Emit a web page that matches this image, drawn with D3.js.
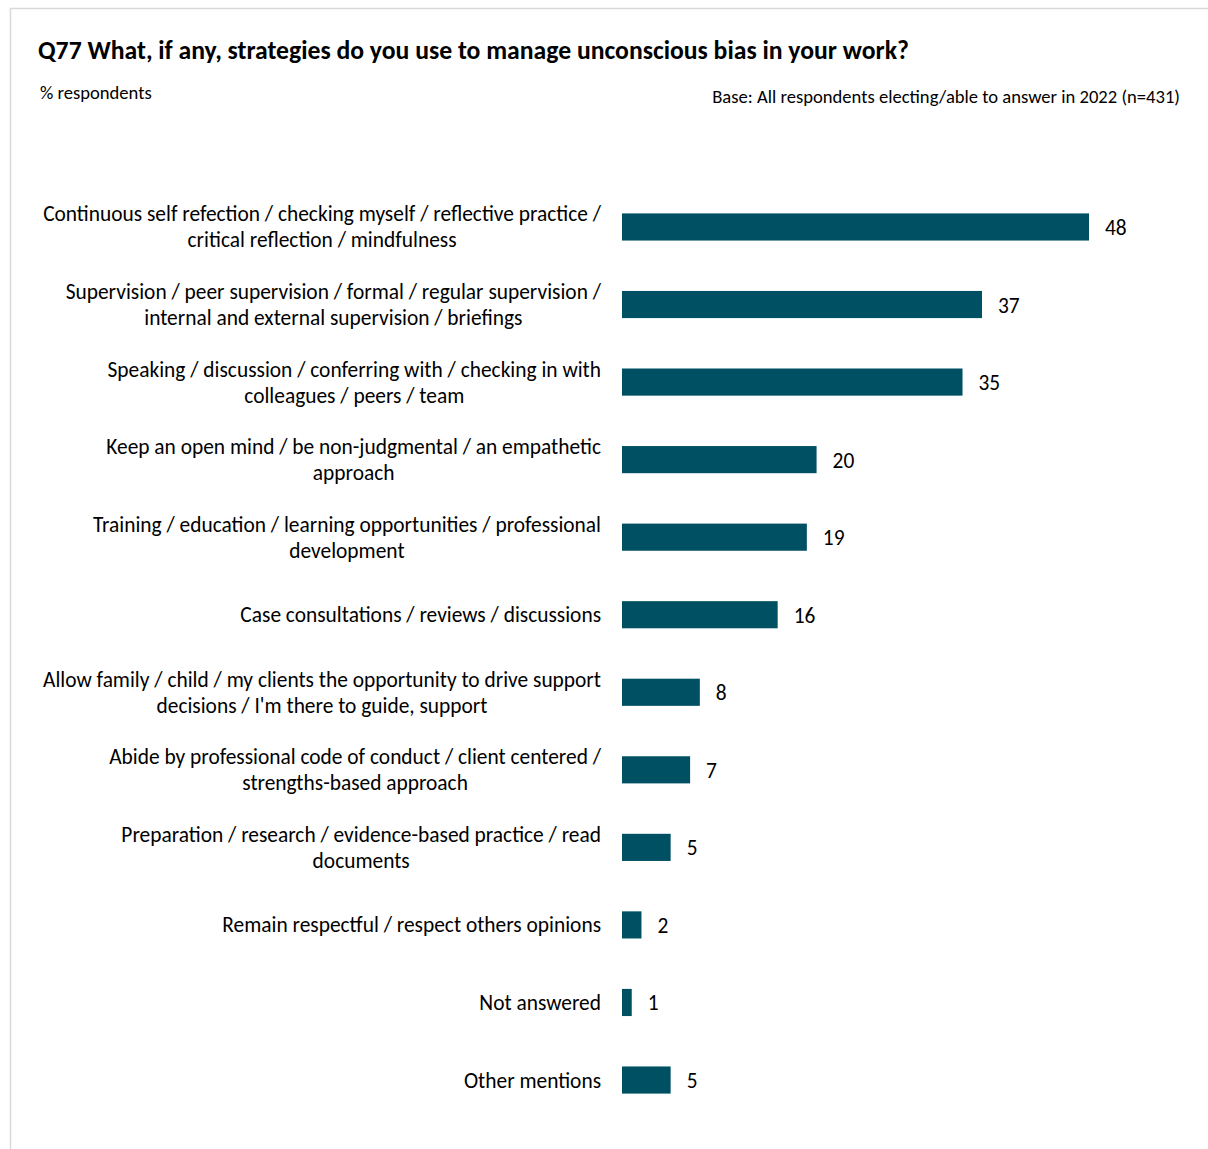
<!DOCTYPE html>
<html><head><meta charset="utf-8">
<script src="https://cdn.jsdelivr.net/npm/d3@7"></script>
<style>
html,body{margin:0;padding:0;background:#fff;}
svg{display:block;font-family:Carlito,Calibri,Lato,"Open Sans",sans-serif;}
</style></head>
<body>
<script>
const title = "Q77 What, if any, strategies do you use to manage unconscious bias in your work?";
const subtitle = "% respondents";
const baseNote = "Base: All respondents electing/able to answer in 2022 (n=431)";
const categories = [
  "Continuous self refection / checking myself / reflective practice /\ncritical reflection / mindfulness",
  "Supervision / peer supervision / formal / regular supervision /\ninternal and external supervision / briefings",
  "Speaking / discussion / conferring with / checking in with\ncolleagues / peers / team",
  "Keep an open mind / be non-judgmental / an empathetic\napproach",
  "Training / education / learning opportunities / professional\ndevelopment",
  "Case consultations / reviews / discussions",
  "Allow family / child / my clients the opportunity to drive support\ndecisions / I'm there to guide, support",
  "Abide by professional code of conduct / client centered /\nstrengths-based approach",
  "Preparation / research / evidence-based practice / read\ndocuments",
  "Remain respectful / respect others opinions",
  "Not answered",
  "Other mentions"
];
const values = [48, 37, 35, 20, 19, 16, 8, 7, 5, 2, 1, 5];

const W = 1208, H = 1149;
const svg = d3.select("body").append("svg").attr("width", W).attr("height", H);

svg.append("rect").attr("x", 10.5).attr("y", 8.5).attr("width", W + 20).attr("height", H + 20)
  .attr("fill", "#fff").attr("stroke", "#d9d9d9").attr("stroke-width", 1.5);

svg.append("text").attr("x", 38).attr("y", 59).attr("font-size", 25.7).attr("font-weight", "bold")
  .attr("fill", "#000").text(title);
svg.append("text").attr("x", 40).attr("y", 98.5).attr("font-size", 18.6).attr("fill", "#000").text(subtitle);
svg.append("text").attr("x", 1180).attr("y", 102.5).attr("font-size", 18.6).attr("text-anchor", "end")
  .attr("fill", "#000").text(baseNote);

const x = d3.scaleLinear().domain([0, 48]).range([622, 1089]);
const y = d3.scaleBand().domain(categories).range([188.2, 188.2 + 12 * 77.55])
  .paddingInner(0.65).paddingOuter(0.325);

const FS = 21.4;
const g = svg.append("g");
categories.forEach((c, i) => {
  const cy = y(c) + y.bandwidth() / 2;
  g.append("rect").attr("x", x(0)).attr("y", y(c)).attr("width", x(values[i]) - x(0))
    .attr("height", y.bandwidth()).attr("fill", "#005063");
  g.append("text").attr("x", x(values[i]) + 16).attr("y", cy + 8).attr("font-size", FS)
    .attr("fill", "#000").text(values[i]);
  const lines = c.split("\n");
  const t = g.append("text").attr("font-size", FS).attr("fill", "#000").attr("text-anchor", "middle");
  lines.forEach((ln, k) => {
    const ly = cy + 7.5 + (k - (lines.length - 1) / 2) * 26;
    t.append("tspan").attr("x", 0).attr("y", ly).text(ln);
  });
  const tsp = t.selectAll("tspan").nodes();
  const widths = tsp.map(n => n.getComputedTextLength());
  const maxW = Math.max(...widths);
  const cx = 601 - maxW / 2;
  t.selectAll("tspan").attr("x", cx);
});
</script>
</body></html>
